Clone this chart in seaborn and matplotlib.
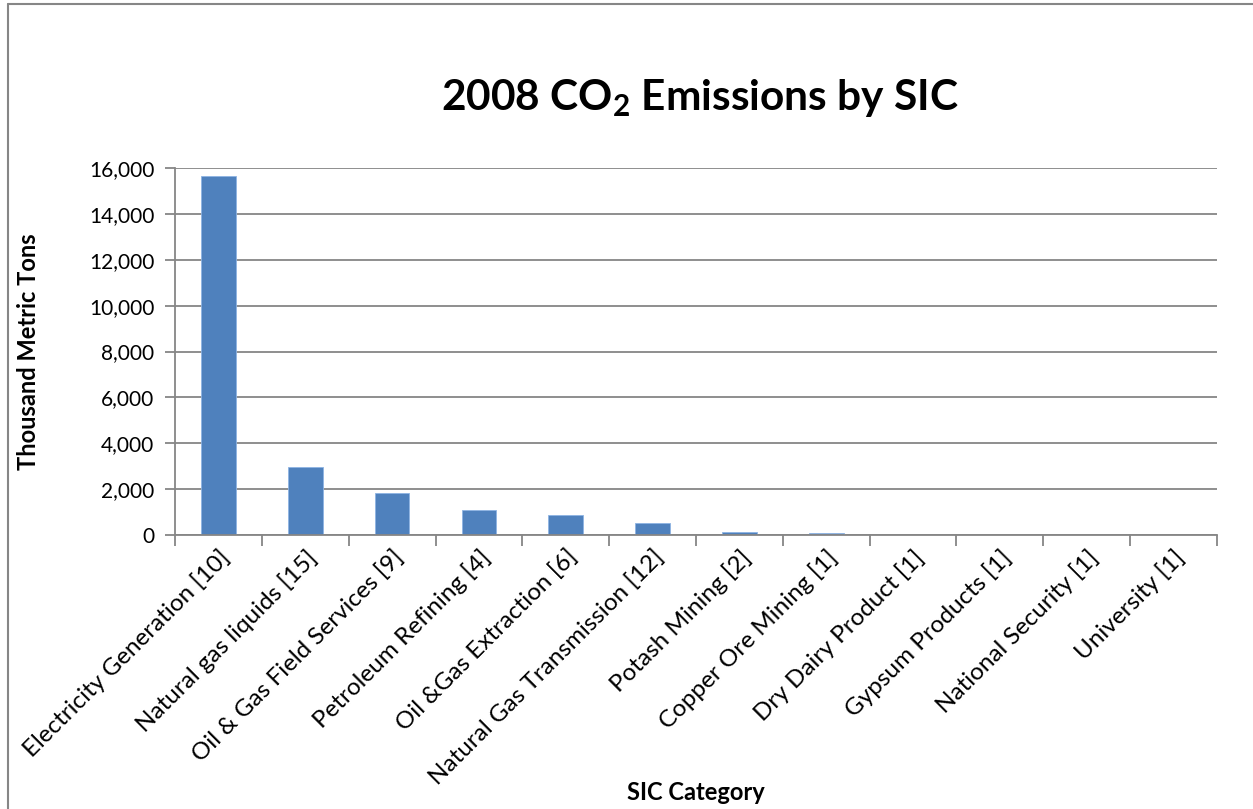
import matplotlib
matplotlib.use("Agg")
import matplotlib.pyplot as plt
import seaborn as sns
import pandas as pd
from matplotlib.ticker import StrMethodFormatter, FixedLocator
from matplotlib.lines import Line2D

categories = [
    "Electricity Generation [10]",
    "Natural gas liquids [15]",
    "Oil & Gas Field Services [9]",
    "Petroleum Refining [4]",
    "Oil &Gas Extraction [6]",
    "Natural Gas Transmission [12]",
    "Potash Mining [2]",
    "Copper Ore Mining [1]",
    "Dry Dairy Product [1]",
    "Gypsum Products [1]",
    "National Security [1]",
    "University [1]",
]
emissions = [15630, 2980, 1810, 1070, 890, 535, 120, 70, 15, 8, 5, 3]
y_ticks = [0, 2000, 4000, 6000, 8000, 10000, 12000, 14000, 16000]

sns.set_theme(style="white")
plt.rcParams["font.family"] = ["Lato", "DejaVu Sans"]
plt.rcParams["mathtext.fontset"] = "custom"
plt.rcParams["mathtext.rm"] = "Lato"
plt.rcParams["mathtext.bf"] = "Lato:bold"
plt.rcParams["text.color"] = "black"
plt.rcParams["axes.labelcolor"] = "black"

grid_c = "#868686"
df = pd.DataFrame({"cat": categories, "val": emissions})

fig = plt.figure(figsize=(12.53, 8.09), dpi=100)
ax = fig.add_axes([175/1253, 1-535/809, (1217-175)/1253, (535-168)/809])
sns.barplot(data=df, x="cat", y="val", color="#4F81BD", width=0.40,
            saturation=1, ax=ax, edgecolor="#8EB4E3", linewidth=0.6)

ax.set_ylim(0, 16000)
ax.set_xlim(-0.5, len(categories) - 0.5)
ax.yaxis.set_major_locator(FixedLocator(y_ticks))
ax.yaxis.set_major_formatter(StrMethodFormatter("{x:,.0f}"))
ax.grid(axis="y", color=grid_c, linewidth=1.3)
ax.set_axisbelow(True)
for s in ["top", "right"]:
    ax.spines[s].set_visible(False)
for s in ["left", "bottom"]:
    ax.spines[s].set_color(grid_c)
    ax.spines[s].set_linewidth(1.3)

ax.set_xticks(range(len(categories)))
ax.set_xticklabels(categories, rotation=45, ha="right", rotation_mode="anchor",
                   fontsize=17.5, color="black")
ax.tick_params(axis="x", length=0, pad=8)
ax.set_xticks([i - 0.5 for i in range(len(categories) + 1)], minor=True)
ax.tick_params(axis="x", which="minor", length=8, width=1.3, color=grid_c,
               direction="out", bottom=True)
ax.tick_params(axis="y", length=7, width=1.3, color=grid_c, direction="out",
               left=True, labelsize=15, labelcolor="black", pad=8)

ax.set_xlabel("SIC Category", fontsize=17, fontweight="bold", labelpad=0,
              va="center", color="black")
ax.xaxis.set_label_coords(0.5, (535 - 793) / 367)
ax.set_ylabel("Thousand Metric Tons", fontsize=17, fontweight="bold", color="black")
ax.yaxis.set_label_coords(-0.13, 0.5)

fig.text(700/1253, 1-98/809, r"2008 CO$_\mathbf{2}$ Emissions by SIC",
         fontsize=30.5, fontweight="bold", ha="center", va="center", color="black")

fig.add_artist(Line2D([8/1253, 8/1253], [0, 1-4/809], transform=fig.transFigure,
                      color=grid_c, linewidth=1.5))
fig.add_artist(Line2D([8/1253, 1], [1-4/809, 1-4/809], transform=fig.transFigure,
                      color=grid_c, linewidth=1.5))

fig.savefig("out.png", dpi=100)
